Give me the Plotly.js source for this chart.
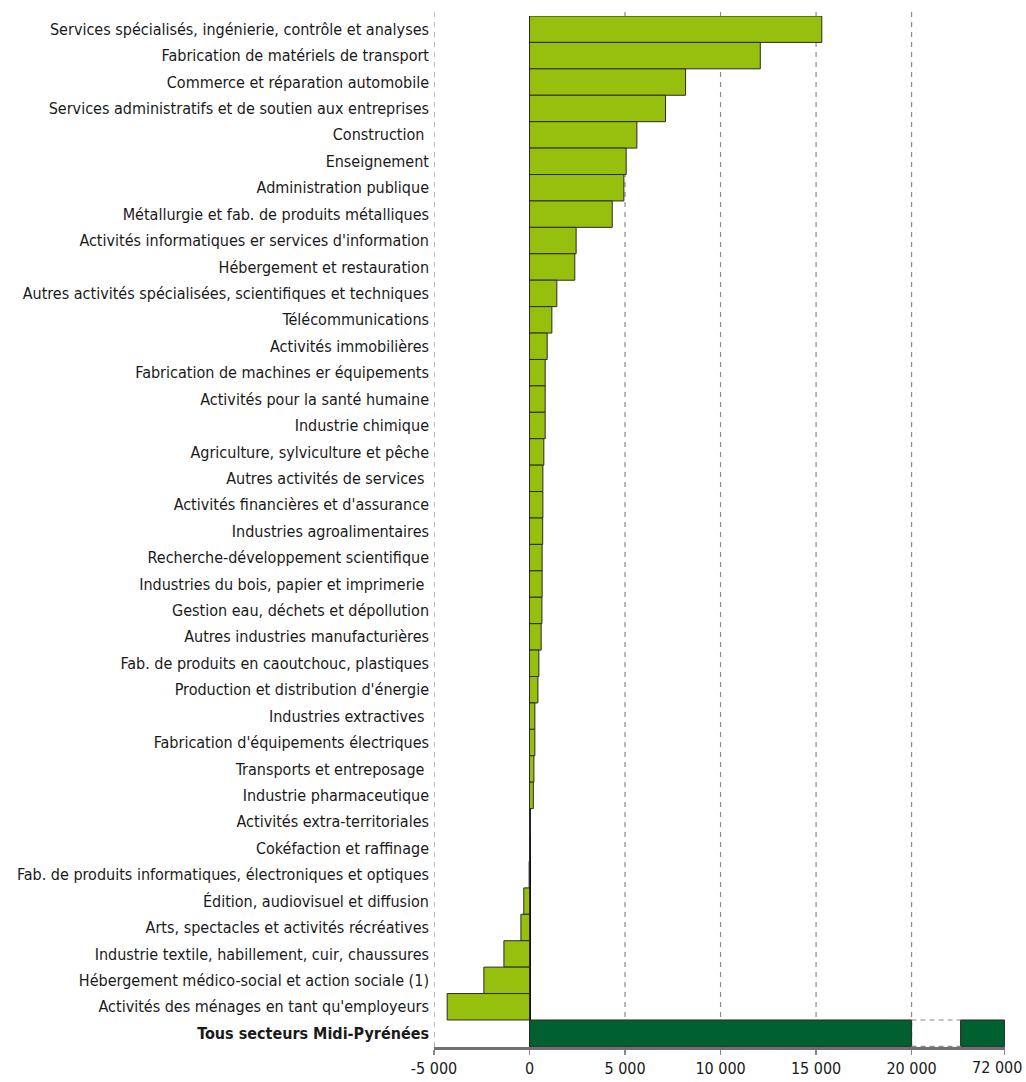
<!DOCTYPE html>
<html>
<head>
<meta charset="utf-8">
<script src="https://cdn.plot.ly/plotly-3.0.1.min.js"></script>
<style>
html, body { margin: 0; padding: 0; background: #ffffff; }
#chart { width: 1026px; height: 1082px; }
</style>
</head>
<body>
<div id="chart"></div>
<script>
// ---- Data ----
const categories = [
  "Services spécialisés, ingénierie, contrôle et analyses",
  "Fabrication de matériels de transport",
  "Commerce et réparation automobile",
  "Services administratifs et de soutien aux entreprises",
  "Construction ",
  "Enseignement",
  "Administration publique",
  "Métallurgie et fab. de produits métalliques",
  "Activités informatiques er services d'information",
  "Hébergement et restauration",
  "Autres activités spécialisées, scientifiques et techniques",
  "Télécommunications",
  "Activités immobilières",
  "Fabrication de machines er équipements",
  "Activités pour la santé humaine",
  "Industrie chimique",
  "Agriculture, sylviculture et pêche",
  "Autres activités de services ",
  "Activités financières et d'assurance",
  "Industries agroalimentaires",
  "Recherche-développement scientifique",
  "Industries du bois, papier et imprimerie ",
  "Gestion eau, déchets et dépollution",
  "Autres industries manufacturières",
  "Fab. de produits en caoutchouc, plastiques",
  "Production et distribution d'énergie",
  "Industries extractives ",
  "Fabrication d'équipements électriques",
  "Transports et entreposage ",
  "Industrie pharmaceutique",
  "Activités extra-territoriales",
  "Cokéfaction et raffinage",
  "Fab. de produits informatiques, électroniques et optiques",
  "Édition, audiovisuel et diffusion",
  "Arts, spectacles et activités récréatives",
  "Industrie textile, habillement, cuir, chaussures",
  "Hébergement médico-social et action sociale (1)",
  "Activités des ménages en tant qu'employeurs"
];
const values = [
  15300, 12080, 8170, 7120, 5620, 5060, 4940, 4330, 2440, 2370,
  1430, 1170, 925, 820, 820, 820, 750, 700, 700, 690,
  660, 660, 650, 610, 490, 440, 280, 280, 230, 200,
  30, 10, -20, -300, -450, -1340, -2390, -4310
];
const totalLabel = "Tous secteurs Midi-Pyrénées";
const totalValue = 72000;
const axisBreakValue = 20000;
const tickValues = [-5000, 0, 5000, 10000, 15000, 20000];
const gridValues = [-5000, 5000, 10000, 15000, 20000];

// ---- Axis break geometry (display units on the linear axis) ----
const breakGapEnd = 22565;   // where the bar resumes after the break
const breakAxisEnd = 24870;  // display position of the total value

function fmt(v) {
  const s = Math.abs(v).toString().replace(/\B(?=(\d{3})+(?!\d))/g, " ");
  return (v < 0 ? "-" : "") + s;
}

const LIGHT = "#97BF0D";
const DARK = "#00602F";
const EDGE = "#2a2a2a";

const allCats = categories.concat([totalLabel]);
const mainX = values.concat([Math.min(totalValue, axisBreakValue)]);
const mainColors = values.map(() => LIGHT).concat([DARK]);

const traces = [
  {
    type: "bar",
    orientation: "h",
    y: allCats,
    x: mainX,
    width: 1,
    marker: { color: mainColors, line: { color: EDGE, width: 1 } },
    hoverinfo: "skip"
  },
  {
    type: "bar",
    orientation: "h",
    y: [totalLabel],
    base: [breakGapEnd],
    x: [breakAxisEnd - breakGapEnd],
    width: 1,
    marker: { color: DARK, line: { color: EDGE, width: 1 } },
    hoverinfo: "skip"
  }
];

const shapes = gridValues.map(v => ({
  type: "line", xref: "x", yref: "paper",
  x0: v, x1: v, y0: 0, y1: 1.006,
  line: { color: "#8a8a8a", width: 1.2, dash: "5px,5px" },
  layer: "below"
}));
// dashed break outline on the total row
const nCat = allCats.length;
[-0.5, 0.5].forEach(d => shapes.push({
  type: "line", xref: "x", yref: "y",
  x0: axisBreakValue, x1: breakGapEnd, y0: nCat - 1 + d, y1: nCat - 1 + d,
  line: { color: "#8a8a8a", width: 1.2, dash: "5px,4px" }
}));

const tickText = allCats.map(c => c === totalLabel ? "<b>" + c + "</b>" : c);
const FONT = "'DejaVu Sans Condensed', 'Liberation Sans Narrow', sans-serif";

const layout = {
  width: 1026,
  height: 1082,
  margin: { l: 434, r: 21, t: 16, b: 35 },
  paper_bgcolor: "#ffffff",
  plot_bgcolor: "#ffffff",
  barmode: "overlay",
  bargap: 0,
  showlegend: false,
  font: { family: FONT, color: "#1a1a1a", size: 16 },
  xaxis: {
    range: [-5000, breakAxisEnd + 20],
    tickvals: tickValues.concat([breakAxisEnd]),
    ticktext: tickValues.map(fmt).concat([""]),
    showgrid: false,
    zeroline: true,
    zerolinecolor: "#111111",
    zerolinewidth: 2,
    showline: true,
    linecolor: "#707070",
    linewidth: 3,
    ticks: "outside",
    ticklen: 5,
    tickwidth: 1.2,
    tickcolor: "#8a8a8a",
    tickfont: { family: FONT, size: 16, color: "#1a1a1a" },
    fixedrange: true
  },
  yaxis: {
    type: "category",
    categoryorder: "array",
    categoryarray: allCats,
    tickvals: allCats,
    ticktext: tickText,
    autorange: "reversed",
    showgrid: false,
    zeroline: false,
    showline: false,
    ticks: "",
    ticklabelstandoff: 4,
    tickfont: { family: FONT, size: 16, color: "#1a1a1a" },
    fixedrange: true
  },
  annotations: [{
    xref: "x", yref: "paper",
    x: breakAxisEnd, y: 0,
    xanchor: "right", yanchor: "top",
    xshift: 19, yshift: -9,
    text: fmt(totalValue),
    showarrow: false,
    font: { family: FONT, size: 16, color: "#1a1a1a" }
  }],
  shapes: shapes
};

Plotly.newPlot("chart", traces, layout, { displayModeBar: false, staticPlot: true });
</script>
</body>
</html>
